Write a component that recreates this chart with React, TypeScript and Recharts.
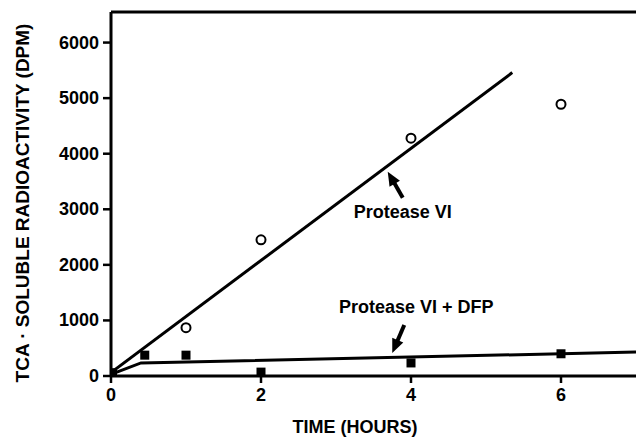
import React from "react";
import {
  ComposedChart,
  XAxis,
  YAxis,
  Line,
  Scatter,
  ReferenceLine,
} from "recharts";

const timeTicks = [0, 2, 4, 6];
const dpmTicks = [0, 1000, 2000, 3000, 4000, 5000, 6000];

const proteaseObserved = [
  { t: 1, v: 870 },
  { t: 2, v: 2450 },
  { t: 4, v: 4280 },
  { t: 6, v: 4890 },
];
const dfpObserved = [
  { t: 0.02, v: 60 },
  { t: 0.45, v: 375 },
  { t: 1, v: 375 },
  { t: 2, v: 70 },
  { t: 4, v: 235 },
  { t: 6, v: 400 },
];
const proteaseFit = [
  { t: 0, v: 60 },
  { t: 5.35, v: 5460 },
];
const dfpFit = [
  { t: 0, v: 30 },
  { t: 0.4, v: 235 },
  { t: 7, v: 430 },
];
const arrowHeads = [
  { t: 3.69, v: 3676, dir: "down" },
  { t: 3.75, v: 414, dir: "up" },
];
const annotations = [
  { t: 3.89, v: 2950, text: "Protease VI" },
  { t: 4.07, v: 1250, text: "Protease VI + DFP" },
];

const FONT = "'Liberation Sans', Arial, Helvetica, sans-serif";

const OpenCircle = (p: any) => (
  <circle cx={p.cx} cy={p.cy} r={4.5} fill="#fff" stroke="#000" strokeWidth={2} />
);
const FilledSquare = (p: any) => (
  <rect x={p.cx - 4.5} y={p.cy - 4.5} width={9} height={9} fill="#000" />
);
const Arrow = (p: any) => {
  const { cx, cy, payload } = p;
  const dx = payload.dir === "down" ? 15 : 12;
  const dy = payload.dir === "down" ? 26 : -28;
  const len = Math.sqrt(dx * dx + dy * dy);
  const ux = dx / len;
  const uy = dy / len;
  const hl = 14;
  const hw = 6;
  const bx = cx + ux * hl;
  const by = cy + uy * hl;
  return (
    <g>
      <line x1={bx - ux * 2} y1={by - uy * 2} x2={cx + dx} y2={cy + dy} stroke="#000" strokeWidth={4} />
      <polygon
        points={`${cx},${cy} ${bx - uy * hw},${by + ux * hw} ${bx + uy * hw},${by - ux * hw}`}
        fill="#000"
      />
    </g>
  );
};
const Annot = (p: any) => (
  <text
    x={p.cx}
    y={p.cy}
    textAnchor="middle"
    dominantBaseline="central"
    fontFamily={FONT}
    fontWeight="bold"
    fontSize={18}
    fill="#000"
  >
    {p.payload.text}
  </text>
);

const YTitle = () => {
  const cy = 203;
  return (
    <text
      x={22}
      y={cy}
      transform={`rotate(-90, 22, ${cy})`}
      textAnchor="middle"
      dominantBaseline="central"
      fontFamily={FONT}
      fontWeight="bold"
      fontSize={19}
      fill="#000"
    >
      TCA · SOLUBLE RADIOACTIVITY (DPM)
    </text>
  );
};
const XTitle = () => (
  <text
    x={355}
    y={427}
    textAnchor="middle"
    dominantBaseline="central"
    fontFamily={FONT}
    fontWeight="bold"
    fontSize={18}
    fill="#000"
  >
    TIME (HOURS)
  </text>
);

const YTick = (p: any) => (
  <text
    x={p.x}
    y={p.y}
    textAnchor="end"
    dominantBaseline="central"
    fontFamily={FONT}
    fontWeight="bold"
    fontSize={18}
    fill="#000"
  >
    {p.payload.value}
  </text>
);
const XTick = (p: any) => (
  <text
    x={p.x}
    y={p.y}
    textAnchor="middle"
    dominantBaseline="hanging"
    fontFamily={FONT}
    fontWeight="bold"
    fontSize={18}
    fill="#000"
  >
    {p.payload.value}
  </text>
);

export default function App() {
  return (
    <div style={{ position: "absolute", left: 0, top: 0, background: "#fff" }}>
      <ComposedChart
        width={638}
        height={438}
        margin={{ top: 12, right: 2, left: 0, bottom: 0 }}
      >
        <XAxis
          type="number"
          dataKey="t"
          domain={[0, 7]}
          ticks={timeTicks}
          allowDataOverflow
          axisLine={{ stroke: "#000", strokeWidth: 3 }}
          tickLine={{ stroke: "#000", strokeWidth: 2.5 }}
          tickSize={7}
          tick={<XTick />}
          tickMargin={5}
          height={62}
          label={<XTitle />}
        />
        <YAxis
          type="number"
          dataKey="v"
          domain={[0, 6550]}
          ticks={dpmTicks}
          allowDataOverflow
          axisLine={{ stroke: "#000", strokeWidth: 3 }}
          tickLine={{ stroke: "#000", strokeWidth: 2.5 }}
          tickSize={8}
          tick={<YTick />}
          tickMargin={4}
          width={111}
          label={<YTitle />}
        />
        <ReferenceLine y={6550} stroke="#000" strokeWidth={3} />
        <Line
          data={proteaseFit}
          dataKey="v"
          type="linear"
          stroke="#000"
          strokeWidth={3}
          dot={false}
          activeDot={false}
          isAnimationActive={false}
        />
        <Line
          data={dfpFit}
          dataKey="v"
          type="linear"
          stroke="#000"
          strokeWidth={3}
          dot={false}
          activeDot={false}
          isAnimationActive={false}
        />
        <Scatter data={proteaseObserved} dataKey="v" shape={OpenCircle} isAnimationActive={false} />
        <Scatter data={dfpObserved} dataKey="v" shape={FilledSquare} isAnimationActive={false} />
        <Scatter data={arrowHeads} dataKey="v" shape={Arrow} isAnimationActive={false} />
        <Scatter data={annotations} dataKey="v" shape={Annot} isAnimationActive={false} />
      </ComposedChart>
    </div>
  );
}
